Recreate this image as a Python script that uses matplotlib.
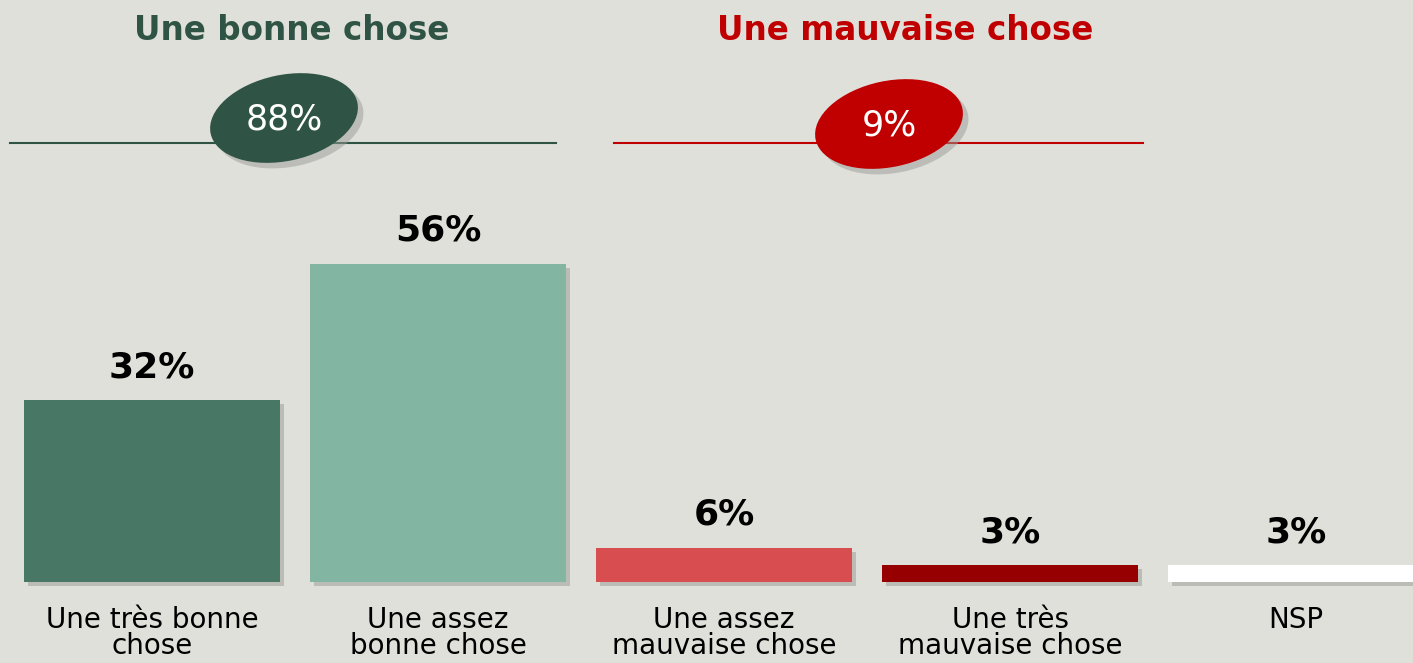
import numpy as np
import matplotlib.pyplot as plt
from matplotlib.patches import Ellipse
import matplotlib.patheffects as pe

# data
categories = ["Une très bonne\nchose", "Une assez\nbonne chose", "Une assez\nmauvaise chose",
              "Une très\nmauvaise chose", "NSP"]
values = [32, 56, 6, 3, 3]
bar_colors = ["#487766", "#82B5A2", "#D84D50", "#970000", "#FFFFFF"]
group_titles = ["Une bonne chose", "Une mauvaise chose"]
group_totals = [88, 9]
group_colors = ["#2F5446", "#C00000"]

BG = "#E0E0DB"
W, H = 1413, 663

fig = plt.figure(figsize=(W / 100, H / 100), dpi=100)
fig.patch.set_facecolor(BG)

# bars: full-figure axes, baseline at pixel row 582, 5.685 px per %
ax = fig.add_axes([0, 0, 1, 1])
ax.set_facecolor("none")
x = np.arange(len(values))
px_step = 286.0
ppp = 5.685
ax.set_xlim(-152 / px_step, (W - 152) / px_step)
ax.set_ylim(-(H - 582) / ppp, 582 / ppp)
ax.axis("off")

shadow = [pe.SimplePatchShadow(offset=(3, -3), shadow_rgbFace="#A4A4A0", alpha=0.6), pe.Normal()]
bars = ax.bar(x, values, width=256 / px_step, color=bar_colors, zorder=3)
for b in bars:
    b.set_path_effects(shadow)

for xi, v in zip(x, values):
    ax.text(xi, v + 2.8, f"{v}%", ha="center", va="bottom", fontsize=26,
            fontweight="bold", color="black")
for xi, c in zip(x, categories):
    ax.text(xi, -4.3, c, ha="center", va="top", fontsize=20, color="black",
            linespacing=0.88)

# decorations in pixel coordinates (y measured from top)
ov = fig.add_axes([0, 0, 1, 1], zorder=-1)
ov.set_xlim(0, W)
ov.set_ylim(H, 0)
ov.axis("off")

title_x = [292, 905]
line_spans = [(10, 556), (614, 1143)]
ell_centers = [(284, 118), (889, 124)]

for i in range(2):
    ov.text(title_x[i], 30, group_titles[i], ha="center", va="center",
            fontsize=23.5, fontweight="bold", color=group_colors[i])
    ov.plot(line_spans[i], [143, 143], color=group_colors[i], lw=1.5, zorder=1)
    e = Ellipse(ell_centers[i], 150, 86, angle=-12, facecolor=group_colors[i],
                edgecolor="none", zorder=2)
    e.set_path_effects([pe.SimplePatchShadow(offset=(4, -4), shadow_rgbFace="#9A9A96", alpha=0.5),
                        pe.Normal()])
    ov.add_patch(e)
    ov.text(ell_centers[i][0], ell_centers[i][1] + 2, f"{group_totals[i]}%", ha="center",
            va="center", fontsize=25, color="white", zorder=3)

fig.savefig("out.png", dpi=100, facecolor=BG)
